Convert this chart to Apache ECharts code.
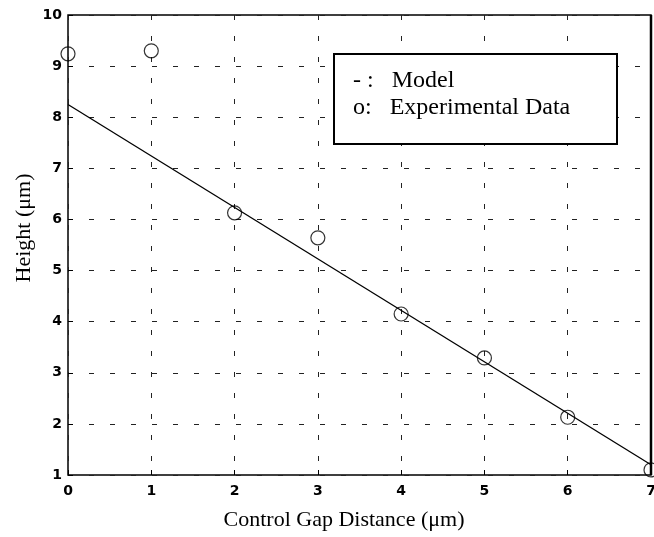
<!DOCTYPE html>
<html>
<head>
<meta charset="utf-8">
<script src="https://cdn.jsdelivr.net/npm/echarts@6/dist/echarts.min.js"></script>
<style>
  html, body { margin: 0; padding: 0; background: #fff; }
  #chart { width: 654px; height: 537px; }
</style>
</head>
<body>
<div id="chart"></div>
<script>
// measured points
var gapDistance = [0, 1, 2, 3, 4, 5, 6, 7];
var heightMeasured = [9.24, 9.30, 6.13, 5.64, 4.15, 3.29, 2.13, 1.10];
// model line end points
var modelX = [0, 7];
var modelY = [8.25, 1.2];

var serif = '"Liberation Serif", "Times New Roman", serif';

var chart = echarts.init(document.getElementById('chart'));
chart.setOption({
  animation: false,
  grid: {
    left: 68, right: 3, top: 15, bottom: 62, outerBoundsMode: 'none',
    show: true, borderColor: '#000', borderWidth: 1.5
  },
  xAxis: {
    type: 'value', min: 0, max: 7, interval: 1,
    axisLine: { show: false },
    axisTick: { inside: true, length: 5, lineStyle: { color: '#000' } },
    axisLabel: { color: '#000', fontFamily: 'DejaVu Sans', fontSize: 14, fontWeight: 'bold', margin: 9 },
    splitLine: { lineStyle: { color: '#222', type: [5, 16], width: 1 } }
  },
  yAxis: {
    type: 'value', min: 1, max: 10, interval: 1,
    axisLine: { show: false },
    axisTick: { inside: true, length: 5, lineStyle: { color: '#000' } },
    axisLabel: { color: '#000', fontFamily: 'DejaVu Sans', fontSize: 14, fontWeight: 'bold', margin: 6 },
    splitLine: { lineStyle: { color: '#222', type: [5, 16], width: 1 } }
  },
  series: [
    {
      name: 'Model', type: 'line',
      data: modelX.map(function (x, i) { return [x, modelY[i]]; }),
      showSymbol: false, lineStyle: { color: '#000', width: 1.3 }
    },
    {
      name: 'Experimental Data', type: 'scatter',
      data: gapDistance.map(function (x, i) { return [x, heightMeasured[i]]; }),
      symbol: 'circle', symbolSize: 14,
      itemStyle: { color: 'transparent', borderColor: '#000', borderWidth: 1.2 }
    }
  ],
  graphic: [
    {
      type: 'text', x: 24, y: 228, rotation: Math.PI / 2,
      style: { text: 'Height (\u03bcm)', font: '22px ' + serif, fill: '#000', align: 'center', verticalAlign: 'middle' }
    },
    {
      type: 'text', x: 344, y: 520,
      style: { text: 'Control Gap Distance (\u03bcm)', font: '22px ' + serif, fill: '#000', align: 'center', verticalAlign: 'middle' }
    },
    {
      type: 'line', z: 5,
      shape: { x1: 651, y1: 15, x2: 651, y2: 475 },
      style: { stroke: '#000', lineWidth: 2.5 }
    },
    {
      type: 'rect', left: 333, top: 53, z: 10,
      shape: { width: 283, height: 90 },
      style: { fill: '#fff', stroke: '#000', lineWidth: 2 }
    },
    {
      type: 'text', left: 353, top: 69, z: 11,
      style: { text: '- :   Model', font: '24px ' + serif, fill: '#000' }
    },
    {
      type: 'text', left: 353, top: 96, z: 11,
      style: { text: 'o:   Experimental Data', font: '24px ' + serif, fill: '#000' }
    }
  ]
});
</script>
</body>
</html>
